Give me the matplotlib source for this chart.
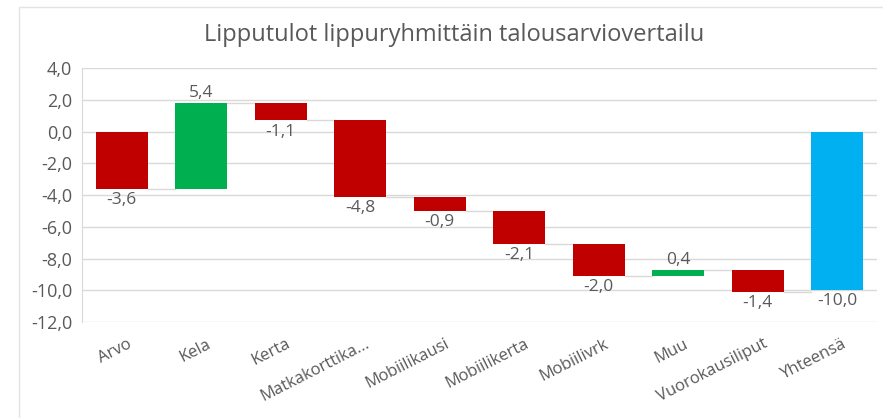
import matplotlib
matplotlib.use("Agg")
import matplotlib.pyplot as plt
from matplotlib.patches import Rectangle
from matplotlib.transforms import ScaledTranslation, blended_transform_factory

categories = ["Arvo", "Kela", "Kerta", "Matkakorttika...", "Mobiilikausi",
              "Mobiilikerta", "Mobiilivrk", "Muu", "Vuorokausiliput", "Yhteensä"]
changes = [-3.6, 5.4, -1.1, -4.8, -0.9, -2.1, -2.0, 0.4, -1.4]
total = -10.0
yticks = [4, 2, 0, -2, -4, -6, -8, -10, -12]

RED = "#C00000"
GREEN = "#00B050"
BLUE = "#00B0F0"
TEXT = "#595959"
GRID = "#D9D9D9"

plt.rcParams["font.family"] = ["Open Sans", "DejaVu Sans"]

fig = plt.figure(figsize=(8.83, 4.18), dpi=100)
fig.patches.append(Rectangle((19 / 883, -0.1), 1.2, 1 - 7 / 418 + 0.1,
                             transform=fig.transFigure, fill=False,
                             edgecolor="#E3E3E3", lw=1))
ax = fig.add_axes([82 / 883, 1 - 322 / 418, 795 / 883, 254 / 418])

width = 0.66
cum = 0.0
bottoms, heights, colors, labels = [], [], [], []
for v in changes:
    bottoms.append(cum)
    heights.append(v)
    colors.append(GREEN if v > 0 else RED)
    labels.append(v)
    cum += v
bottoms.append(0)
heights.append(total)
colors.append(BLUE)
labels.append(total)

x = list(range(len(categories)))
ax.bar(x, heights, bottom=bottoms, width=width, color=colors, zorder=3)

# connector lines
level = 0.0
for i, v in enumerate(changes):
    level += v
    ax.plot([i + width / 2, i + 1 - width / 2], [level, level],
            color=GRID, lw=1, zorder=2)

for i, (b, h, lab) in enumerate(zip(bottoms, heights, labels)):
    s = f"{lab:.1f}".replace(".", ",")
    if h > 0:
        ax.text(i, b + h + 0.1, s, ha="center", va="bottom",
                fontsize=12.5, color=TEXT)
    else:
        ax.text(i, b + h - 0.2, s, ha="center", va="top",
                fontsize=12.5, color=TEXT)

ax.set_xlim(-0.5, len(categories) - 0.5)
ax.set_ylim(-12, 4)
ax.set_yticks(yticks)
ax.set_yticklabels([f"{t:.1f}".replace(".", ",") for t in yticks],
                   fontsize=13, color=TEXT)
ax.set_xticks(x)
ax.set_xticklabels([])
# category labels: rotated, right end near the category centre
trans = blended_transform_factory(ax.transData, ax.transAxes) + \
    ScaledTranslation(5 / 100, -14 / 100, fig.dpi_scale_trans)
for i, name in enumerate(categories):
    ax.text(i, 0, name, transform=trans, rotation=27, ha="right", va="top",
            rotation_mode="anchor", fontsize=12, color=TEXT, clip_on=False)
ax.tick_params(axis="y", length=0, pad=7)
ax.tick_params(axis="x", length=0)
ax.grid(axis="y", color=GRID, lw=1, zorder=0)
for sp in ["top", "right", "bottom"]:
    ax.spines[sp].set_visible(False)
ax.spines["left"].set_color(GRID)

fig.text(0.5 * (205 + 703) / 883, 1 - 35 / 418,
         "Lipputulot lippuryhmittäin talousarviovertailu",
         ha="center", va="center", fontsize=17, color=TEXT)

fig.savefig("out.png", dpi=100)
